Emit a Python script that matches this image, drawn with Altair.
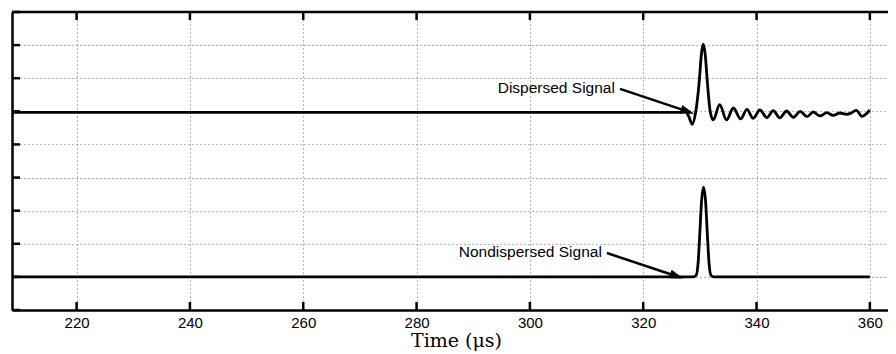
import altair as alt
import pandas as pd

# ---------------- data ----------------
x_ticks = [220, 240, 260, 280, 300, 320, 340, 360]
y_ticks = [-1, 0, 1, 2, 3, 4, 5, 6, 7, 8]
x_min, x_max = 208.6, 363.2
y_min, y_max = -1, 8

# Nondispersed signal (baseline 0)
nd_t = [208.6, 328.8, 329.35, 329.7, 330.0, 330.3, 330.64, 331.0, 331.3, 331.6, 331.95, 332.4, 360.0]
nd_y = [0, 0, 0.05, 0.45, 1.35, 2.3, 2.71, 2.3, 1.35, 0.45, 0.05, 0, 0]

# Dispersed signal (baseline 5)
d_t = [208.6, 326.5, 327.4, 328.0, 328.66, 329.25, 329.9, 330.25, 330.6, 330.95, 331.3, 331.8,
       332.35, 333.5, 334.7, 335.9, 337.2, 338.3, 339.4, 340.6, 341.8, 342.95, 344.1, 345.3,
       346.5, 347.7, 348.9, 350.0, 351.2, 352.4, 353.5, 354.7, 355.9, 356.6, 357.6, 358.6, 360.0]
d_y = [4.97, 4.97, 5.0, 4.86, 4.61, 4.97, 5.93, 6.7, 7.03, 6.7, 5.93, 5.02,
       4.74, 5.2, 4.74, 5.1, 4.77, 5.06, 4.79, 5.04, 4.81, 5.02, 4.80, 5.01,
       4.82, 5.0, 4.84, 4.98, 4.86, 4.96, 4.88, 4.95, 4.91, 4.94, 5.03, 4.85, 5.04]

# Annotations
ann_label = ["Dispersed Signal", "Nondispersed Signal"]
ann_text_t = [315.0, 312.7]
ann_text_y = [5.555, 0.594]
ann_start_t = [315.9, 313.6]
ann_start_y = [5.68, 0.72]
ann_end_t = [328.33, 326.43]
ann_end_y = [4.97, -0.01]
ann_tip_t = [329.0, 327.1]
ann_tip_y = [4.93, -0.05]
ann_angle = [18.1, 18.7]

# ---------------- chart ----------------
W, H = 876, 298
xscale = alt.Scale(domain=[x_min, x_max], nice=False, zero=False)
yscale = alt.Scale(domain=[y_min, y_max], nice=False, zero=False)
grid_col = "#6e6e6e"

xaxis = alt.Axis(
    values=x_ticks, grid=True, gridDash=[1, 3], gridColor=grid_col, gridWidth=1,
    ticks=False, tickSize=0, domain=True, domainColor="black", domainWidth=2.5,
    labelFont="Liberation Sans", labelFontSize=15, labelColor="black",
    labelPadding=17, labelBaseline="alphabetic", labelFlush=False,
    title="Time (μs)", titleFont="DejaVu Serif", titleFontSize=19,
    titleFontWeight="normal", titleColor="black", titleX=444, titleY=36,
    titleAlign="center", titleBaseline="alphabetic", format="d")
yaxis = alt.Axis(
    values=y_ticks, grid=True, gridDash=[1, 3], gridColor=grid_col, gridWidth=1,
    labels=False, ticks=False, tickSize=0, domain=True, domainColor="black",
    domainWidth=2.5, title=None)


def X(field):
    return alt.X(field, scale=xscale, axis=xaxis, title="Time (μs)")


def Y(field):
    return alt.Y(field, scale=yscale, axis=yaxis, title=None)


sig = pd.concat([
    pd.DataFrame({"t": d_t, "v": d_y, "series": "Dispersed"}),
    pd.DataFrame({"t": nd_t, "v": nd_y, "series": "Nondispersed"}),
])

lines = alt.Chart(sig).mark_line(
    color="black", strokeWidth=2.8, interpolate="monotone"
).encode(x=X("t:Q"), y=Y("v:Q"), detail="series:N")

xt = pd.DataFrame({"t": x_ticks})
yt = pd.DataFrame({"v": y_ticks})

bottom_ticks = alt.Chart(xt).mark_rule(color="black", strokeWidth=2.5).encode(
    x=X("t:Q"), y=alt.value(H), y2=alt.value(H - 8))
top_ticks = alt.Chart(xt).mark_rule(color="black", strokeWidth=2.5).encode(
    x=X("t:Q"), y=alt.value(0), y2=alt.value(8))
left_ticks = alt.Chart(yt).mark_rule(color="black", strokeWidth=2.5).encode(
    y=Y("v:Q"), x=alt.value(0), x2=alt.value(8))
top_frame = alt.Chart(pd.DataFrame({"a": [0]})).mark_rule(color="black", strokeWidth=2.5).encode(
    x=alt.value(0), x2=alt.value(W), y=alt.value(0))

ann = pd.DataFrame({
    "label": ann_label, "tt": ann_text_t, "ty": ann_text_y,
    "st": ann_start_t, "sy": ann_start_y, "et": ann_end_t, "ey": ann_end_y,
    "pt": ann_tip_t, "py": ann_tip_y, "ang": ann_angle,
})

ann_text = alt.Chart(ann).mark_text(
    align="right", baseline="alphabetic", font="Liberation Sans", fontSize=15.5, color="black"
).encode(x=X("tt:Q"), y=Y("ty:Q"), text="label:N")
ann_line = alt.Chart(ann).mark_rule(color="black", strokeWidth=2.5).encode(
    x=X("st:Q"), y=Y("sy:Q"), x2="et:Q", y2="ey:Q")
ann_head = alt.Chart(ann).mark_point(
    shape="M0,0 L-2,-0.64 L-2,0.64 Z", filled=True, size=196, color="black",
    opacity=1, strokeWidth=0,
).encode(x=X("pt:Q"), y=Y("py:Q"), angle=alt.Angle("ang:Q", scale=None))

chart = alt.layer(
    lines, bottom_ticks, top_ticks, left_ticks, top_frame, ann_line, ann_head, ann_text
).properties(
    width=W, height=H,
    padding={"left": 4, "top": 4, "right": 0, "bottom": 42},
    autosize=alt.AutoSizeParams(type="none"),
).configure_view(stroke=None).configure(background="white")

chart.save("out.html", embed_options={"renderer": "svg", "actions": False})
